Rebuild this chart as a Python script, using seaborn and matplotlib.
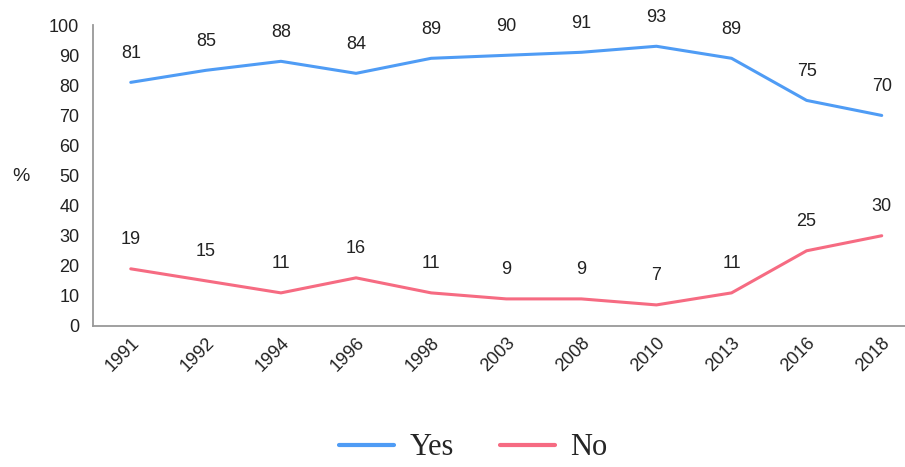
import numpy as np
import pandas as pd
import matplotlib
matplotlib.use("Agg")
import matplotlib.pyplot as plt
import seaborn as sns

# ============================================================================
# DATA
# ============================================================================

years = ["1991", "1992", "1994", "1996", "1998", "2003", "2008", "2010", "2013", "2016", "2018"]
yes_values = [81, 85, 88, 84, 89, 90, 91, 93, 89, 75, 70]
no_values = [19, 15, 11, 16, 11, 9, 9, 7, 11, 25, 30]

df = pd.DataFrame({
    "year": years * 2,
    "value": yes_values + no_values,
    "answer": ["Yes"] * len(years) + ["No"] * len(years),
})

# ============================================================================
# PLOT
# ============================================================================

sns.set_style("white")
plt.rcParams["font.family"] = ["Liberation Sans", "DejaVu Sans"]

fig = plt.figure(figsize=(9.05, 4.67), dpi=100)
ax = fig.add_axes([0.103, 0.302, 0.897, 0.644])

palette = {"Yes": "#4f9cf5", "No": "#f66b82"}

sns.lineplot(
    data=df,
    x="year",
    y="value",
    hue="answer",
    palette=palette,
    linewidth=2.2,
    sort=False,
    ax=ax,
)

for series in [yes_values, no_values]:
    for i, v in enumerate(series):
        ax.annotate(
            str(v),
            (i, v),
            xytext=(0, 21),
            textcoords="offset points",
            ha="center",
            va="center",
            fontsize=13,
            color="#222222",
        )

ax.set_ylim(0, 100)
ax.set_yticks(range(0, 101, 10))
ax.set_xlim(-0.5, 10.31)

ax.set_xlabel("")
ax.set_ylabel("%", rotation=0, fontsize=14, color="#222222")
ax.yaxis.set_label_coords(-0.089, 0.47)

ax.tick_params(axis="y", labelsize=13, colors="#222222", length=0, pad=10)
ax.tick_params(axis="x", labelsize=13, colors="#222222", length=0, pad=6)
plt.setp(ax.get_xticklabels(), rotation=45, ha="right", rotation_mode="anchor")

for side in ["top", "right"]:
    ax.spines[side].set_visible(False)
for side in ["left", "bottom"]:
    ax.spines[side].set_color("#999999")
    ax.spines[side].set_linewidth(1.3)

ax.legend(
    loc="center",
    bbox_to_anchor=(0.468, -0.405),
    ncol=2,
    frameon=False,
    prop={"family": "Liberation Serif", "size": 22},
    handlelength=1.8,
    handletextpad=0.5,
    columnspacing=1.5,
    borderpad=0.2,
)
for line in ax.get_legend().get_lines():
    line.set_linewidth(3)

fig.savefig("out.png", dpi=100)
